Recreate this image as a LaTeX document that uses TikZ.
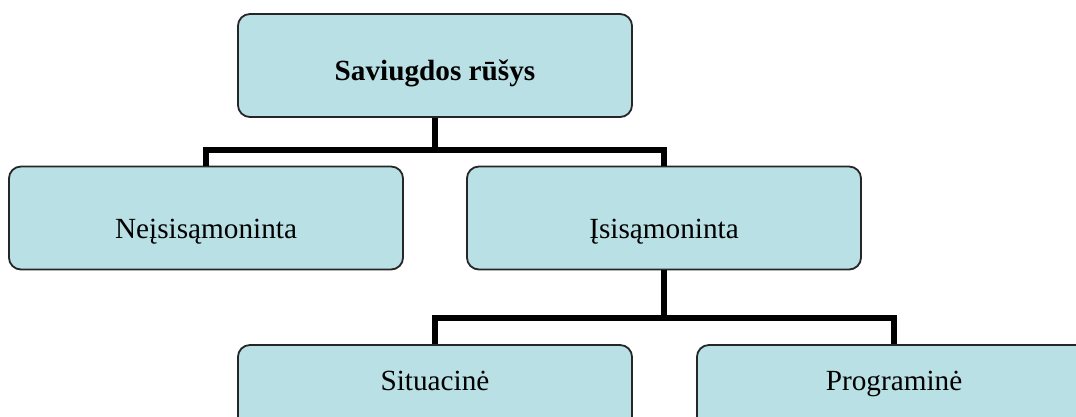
\documentclass[tikz,border=0pt]{standalone}
\usepackage{fontspec}
\setmainfont{Liberation Serif}
\usepackage{xcolor}
\usetikzlibrary{positioning}

\definecolor{boxfill}{RGB}{185,224,228}

\tikzset{
    kind/.style = {draw = black!85, fill = boxfill, line width = 1.3pt, rounded corners = 0.3cm,
                   minimum width = 9.85cm, minimum height = 2.575cm, text height = 1cm, text depth = 0cm,
                   font = \fontsize{20.8}{24}\selectfont},
    link/.style = {line width = 4.2pt}
}

\begin{document}
\begin{tikzpicture}[x = 0.025cm, y = -0.025cm]
    \useasboundingbox (0, 0) rectangle (1076, 416);
    \clip (0, 0) rectangle (1076, 416);

    \node [kind, text depth = 0.275cm] (rusys) at (435, 65.5) {\textbf{Saviugdos rūšys}};
    \node [kind] (neis) at (206, 218) {Neįsisąmoninta};
    \node [kind] (isis) at (664, 218) {Įsisąmoninta};
    \node [kind, text depth = 1.325cm] (sit) at (435, 396.5) {Situacinė};
    \node [kind, text depth = 1.325cm] (prog) at (894, 396.5) {Programinė};

    \coordinate (jtop) at (435, 150);
    \coordinate (jmid) at (664, 318);

    \draw [link] (rusys.south) -- (jtop);
    \draw [link] (neis.north) |- (jtop) -| (isis.north);
    \draw [link] (isis.south) -- (jmid);
    \draw [link] (sit.north) |- (jmid) -| (prog.north);
\end{tikzpicture}
\end{document}
